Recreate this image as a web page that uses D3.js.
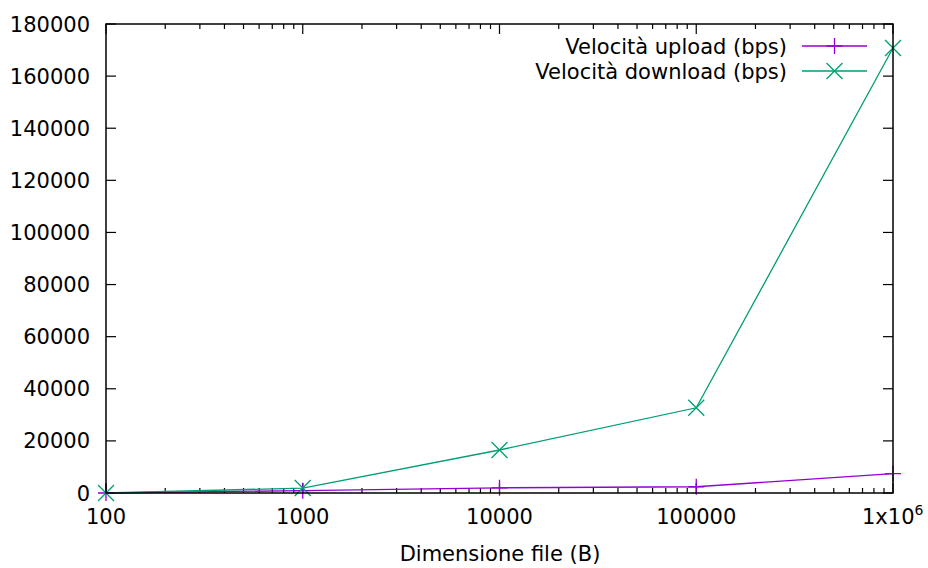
<!DOCTYPE html>
<html>
<head>
<meta charset="UTF-8">
<title>Velocità</title>
<style>
  body { margin: 0; background: #fff; }
  svg { font-family: "DejaVu Sans", sans-serif; display: block; }
</style>
<script src="https://cdn.jsdelivr.net/npm/d3@7"></script>
</head>
<body>
<div id="canvas"></div>
<script>
// data
var sizes = [100, 1000, 10000, 100000, 1000000];
var upload = [0, 900, 2000, 2400, 7400];
var download = [0, 1900, 16500, 32700, 170800];
var yTicks = [0, 20000, 40000, 60000, 80000, 100000, 120000, 140000, 160000, 180000];
var xTicks = [100, 1000, 10000, 100000, 1000000];
var seriesNames = ["Velocità upload (bps)", "Velocità download (bps)"];

var width = 928, height = 568;
var margin = {top: 24, right: 35, bottom: 75, left: 106};
var innerWidth = width - margin.left - margin.right;
var innerHeight = height - margin.top - margin.bottom;

var x = d3.scaleLog().domain([100, 1000000]).range([0, innerWidth]);
var y = d3.scaleLinear().domain([0, 180000]).range([innerHeight, 0]);

var svg = d3.select("#canvas").append("svg")
    .attr("width", width).attr("height", height);
var g = svg.append("g")
    .attr("transform", "translate(" + margin.left + "," + margin.top + ")");

// minor x ticks
var minor = [];
for (var dec = 100; dec < 1000000; dec *= 10) {
  for (var k = 2; k <= 9; k++) minor.push(dec * k);
}

function tickLines(sel, vals, len, axis) {
  vals.forEach(function(v) {
    if (axis === "x") {
      sel.append("line").attr("x1", x(v)).attr("x2", x(v))
         .attr("y1", innerHeight).attr("y2", innerHeight - len);
      sel.append("line").attr("x1", x(v)).attr("x2", x(v))
         .attr("y1", 0).attr("y2", len);
    } else {
      sel.append("line").attr("y1", y(v)).attr("y2", y(v))
         .attr("x1", 0).attr("x2", len);
      sel.append("line").attr("y1", y(v)).attr("y2", y(v))
         .attr("x1", innerWidth).attr("x2", innerWidth - len);
    }
  });
}

var ticks = g.append("g").attr("stroke", "#000").attr("stroke-width", 1.2);
tickLines(ticks, xTicks, 10, "x");
tickLines(ticks, minor, 5, "x");
tickLines(ticks, yTicks, 10, "y");

// y labels
g.selectAll(".ylab").data(yTicks).enter().append("text")
  .attr("x", -16).attr("y", function(d) { return y(d); })
  .attr("dy", "0.36em").attr("text-anchor", "end")
  .attr("font-size", 21).attr("fill", "#000")
  .text(function(d) { return d; });

// x labels
xTicks.forEach(function(d) {
  var t = g.append("text").attr("x", x(d)).attr("y", innerHeight + 31)
    .attr("text-anchor", "middle").attr("font-size", 21).attr("fill", "#000");
  if (d === 1000000) {
    t.attr("x", x(d) - 31).attr("text-anchor", "start");
    t.append("tspan").text("1x10");
    t.append("tspan").attr("dy", -9).attr("font-size", 14).text("6");
  } else {
    t.text(d);
  }
});

svg.append("text").attr("x", 500).attr("y", 561)
  .attr("text-anchor", "middle").attr("font-size", 21).attr("fill", "#000")
  .text("Dimensione file (B)");

// lines
var line = d3.line()
  .x(function(d) { return x(d[0]); })
  .y(function(d) { return y(d[1]); });

var upData = d3.zip(sizes, upload);
var downData = d3.zip(sizes, download);
var colors = ["#9400d3", "#009e73"];

g.append("path").datum(upData).attr("d", line)
  .attr("fill", "none").attr("stroke", colors[0]).attr("stroke-width", 1.3);
g.append("path").datum(downData).attr("d", line)
  .attr("fill", "none").attr("stroke", colors[1]).attr("stroke-width", 1.3);

function plus(sel, cx, cy, color) {
  sel.append("path").attr("d", "M" + (cx - 8) + "," + cy + "H" + (cx + 8) + "M" + cx + "," + (cy - 8) + "V" + (cy + 8))
    .attr("stroke", color).attr("stroke-width", 1.3).attr("fill", "none");
}
function cross(sel, cx, cy, color) {
  sel.append("path").attr("d", "M" + (cx - 8) + "," + (cy - 8) + "L" + (cx + 8) + "," + (cy + 8) + "M" + (cx - 8) + "," + (cy + 8) + "L" + (cx + 8) + "," + (cy - 8))
    .attr("stroke", color).attr("stroke-width", 1.3).attr("fill", "none");
}

upData.forEach(function(d) { plus(g, x(d[0]), y(d[1]), colors[0]); });
downData.forEach(function(d) { cross(g, x(d[0]), y(d[1]), colors[1]); });

// border
g.append("rect").attr("width", innerWidth).attr("height", innerHeight)
  .attr("fill", "none").attr("stroke", "#000").attr("stroke-width", 1.5);

// legend
var legend = svg.append("g");
seriesNames.forEach(function(name, i) {
  var ly = 46 + i * 25;
  legend.append("text").attr("x", 787).attr("y", ly).attr("dy", "0.36em")
    .attr("text-anchor", "end").attr("font-size", 21).attr("fill", "#000").text(name);
  legend.append("line").attr("x1", 802).attr("x2", 867).attr("y1", ly).attr("y2", ly)
    .attr("stroke", colors[i]).attr("stroke-width", 1.3);
  if (i === 0) plus(legend, 834.5, ly, colors[i]);
  else cross(legend, 834.5, ly, colors[i]);
});
</script>
</body>
</html>
